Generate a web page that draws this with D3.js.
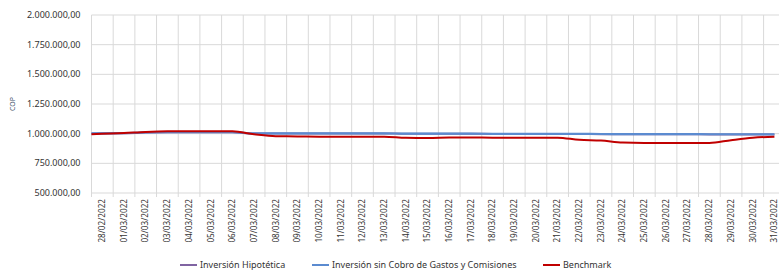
<!DOCTYPE html>
<html>
<head>
<meta charset="utf-8">
<script src="https://cdn.jsdelivr.net/npm/d3@7"></script>
<style>
  html, body { margin: 0; padding: 0; background: #fff; }
  svg { display: block; font-family: "Noto Sans", sans-serif; }
</style>
</head>
<body>
<div id="chart"></div>
<script>
const dates = ['28/02/2022', '01/03/2022', '02/03/2022', '03/03/2022', '04/03/2022', '05/03/2022',
  '06/03/2022', '07/03/2022', '08/03/2022', '09/03/2022', '10/03/2022', '11/03/2022', '12/03/2022',
  '13/03/2022', '14/03/2022', '15/03/2022', '16/03/2022', '17/03/2022', '18/03/2022', '19/03/2022',
  '20/03/2022', '21/03/2022', '22/03/2022', '23/03/2022', '24/03/2022', '25/03/2022', '26/03/2022',
  '27/03/2022', '28/03/2022', '29/03/2022', '30/03/2022', '31/03/2022'];

const hipotetica = [1002000, 1004000, 1009000, 1011000, 1011000, 1011000, 1011000, 1002000, 1001000,
  1002000, 1002000, 1001000, 1001000, 1002000, 999000, 999000, 999000, 999000, 998000, 998000,
  998000, 998000, 997000, 996000, 995000, 995000, 995000, 995000, 994000, 994000, 994000, 994000];

const sinCobro = [1003000, 1005000, 1010000, 1012000, 1012000, 1012000, 1012000, 1003000, 1002000,
  1003000, 1003000, 1002000, 1002000, 1003000, 1000000, 1000000, 1000000, 1000000, 999000, 999000,
  999000, 999000, 998000, 997000, 996000, 996000, 996000, 996000, 995000, 995000, 995000, 995000];

const benchmark = [995000, 1005000, 1015000, 1020000, 1020000, 1020000, 1020000, 995000, 978000,
  977000, 975000, 975000, 975000, 975000, 965000, 963000, 967000, 968000, 966000, 966000,
  966000, 966000, 948000, 942000, 925000, 922000, 922000, 922000, 922000, 945000, 965000, 975000];

const yTicks = [500000, 750000, 1000000, 1250000, 1500000, 1750000, 2000000];

const series = [
  { name: 'Inversión Hipotética', values: hipotetica, color: '#8064a2', width: 2 },
  { name: 'Inversión sin Cobro de Gastos y Comisiones', values: sinCobro, color: '#5b8bd0', width: 2.2 },
  { name: 'Benchmark', values: benchmark, color: '#c00000', width: 2 }
];

const width = 779, height = 275;
const margin = { top: 15, left: 91.5 };
const plotW = 32 * 21.68, plotH = 178;

const locale = d3.formatLocale({ decimal: ',', thousands: '.', grouping: [3], currency: ['$', ''] });
const fmt = locale.format(',.2f');

const svg = d3.select('#chart').append('svg')
  .attr('width', width)
  .attr('height', height)
  .style('overflow', 'hidden');

const g = svg.append('g').attr('transform', `translate(${margin.left},${margin.top})`);

const x = d3.scaleBand().domain(dates).range([0, plotW]);
const y = d3.scaleLinear().domain([500000, 2000000]).range([plotH, 0]);

// horizontal grid
g.append('g').selectAll('line')
  .data(yTicks)
  .join('line')
  .attr('x1', 0).attr('x2', plotW)
  .attr('y1', d => y(d)).attr('y2', d => y(d))
  .attr('stroke', '#d9d9d9')
  .attr('stroke-width', 1);

// vertical grid at category edges, with ticks below axis
g.append('g').selectAll('line')
  .data(dates)
  .join('line')
  .attr('x1', d => x(d)).attr('x2', d => x(d))
  .attr('y1', 0).attr('y2', plotH + 4)
  .attr('stroke', '#d9d9d9')
  .attr('stroke-width', 1);

// y labels
g.append('g').selectAll('text')
  .data(yTicks)
  .join('text')
  .attr('x', -11)
  .attr('y', d => y(d))
  .attr('dy', '0.34em')
  .attr('text-anchor', 'end')
  .attr('font-size', '9px')
  .attr('fill', '#333')
  .text(d => fmt(d));

// x labels rotated
g.append('g').selectAll('text')
  .data(dates)
  .join('text')
  .attr('transform', d => `translate(${x(d) + x.bandwidth() / 2},${plotH + 6}) rotate(-90)`)
  .attr('text-anchor', 'end')
  .attr('dy', '0.34em')
  .attr('font-size', '8.2px')
  .attr('fill', '#333')
  .text(d => d);

// axis title
svg.append('text')
  .attr('transform', `translate(13,104) rotate(-90)`)
  .attr('text-anchor', 'middle')
  .attr('dy', '0.34em')
  .attr('font-size', '7px')
  .attr('fill', '#44546a')
  .text('COP');

const line = d3.line()
  .x((d, i) => i === 0 ? x(dates[0]) : x(dates[i]) + x.bandwidth() / 2)
  .y(d => y(d))
  .curve(d3.curveMonotoneX);

g.append('g').selectAll('path')
  .data(series)
  .join('path')
  .attr('d', d => line(d.values))
  .attr('fill', 'none')
  .attr('stroke', d => d.color)
  .attr('stroke-width', d => d.width)
  .attr('stroke-linejoin', 'round');

// legend
const legendX = [180, 312, 543];
const legend = svg.append('g').selectAll('g')
  .data(series)
  .join('g')
  .attr('transform', (d, i) => `translate(${legendX[i]},265)`);

legend.append('line')
  .attr('x1', 0).attr('x2', 17)
  .attr('stroke', d => d.color)
  .attr('stroke-width', 2);

legend.append('text')
  .attr('x', 20)
  .attr('dy', '0.34em')
  .attr('font-size', '9px')
  .attr('fill', '#333')
  .text(d => d.name);
</script>
</body>
</html>
